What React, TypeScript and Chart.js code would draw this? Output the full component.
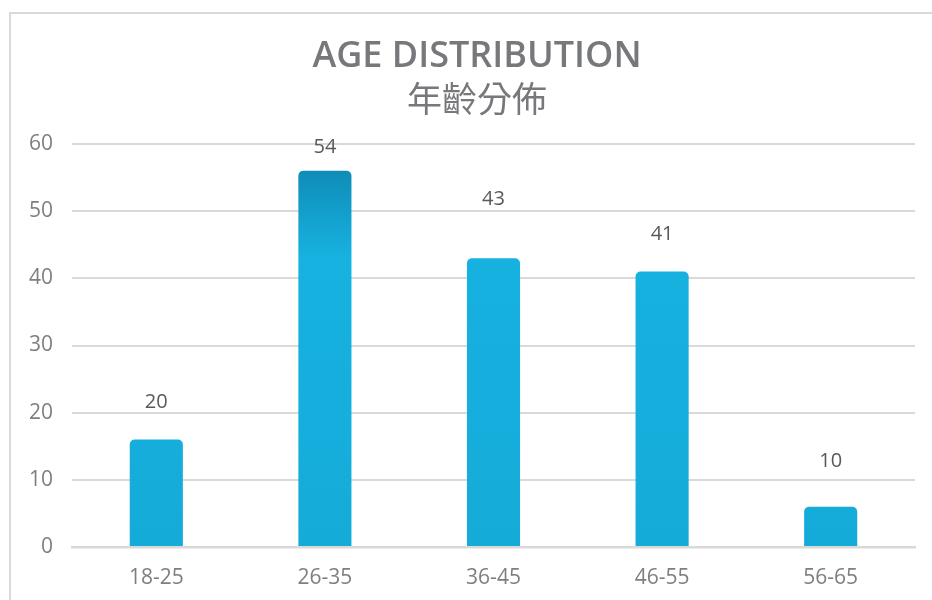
import React, { useEffect, useRef } from "react";
import { Chart, registerables } from "chart.js";

Chart.register(...registerables);

const categories = ["18-25", "26-35", "36-45", "46-55", "56-65"];
const barValues = [16, 56, 43, 41, 6];
const labelValues = [20, 54, 43, 41, 10];
const labelPositions = [21.6, 59.5, 51.7, 46.6, 12.8];
const yMin = 0;
const yMax = 60;
const yStep = 10;
const titleText = "AGE DISTRIBUTION";
const subtitleText = "年齡分佈";

const valueLabelsPlugin = {
  id: "valueLabels",
  afterDatasetsDraw(chart: any) {
    const meta = chart.getDatasetMeta(0);
    const y = chart.scales.y;
    const ctx = chart.ctx;
    ctx.save();
    ctx.font = '20px "Open Sans"';
    ctx.fillStyle = "#595959";
    ctx.textAlign = "center";
    ctx.textBaseline = "middle";
    meta.data.forEach((bar: any, i: number) => {
      ctx.fillText(String(labelValues[i]), bar.x, y.getPixelForValue(labelPositions[i]));
    });
    ctx.restore();
  },
};

const titlePlugin = {
  id: "twoLineTitle",
  afterDraw(chart: any) {
    const ctx = chart.ctx;
    ctx.save();
    ctx.fillStyle = "#77787b";
    ctx.textAlign = "center";
    ctx.textBaseline = "alphabetic";
    ctx.font = '600 36px "Open Sans"';
    ctx.fillText(titleText, 477, 67);
    ctx.font = '400 35px "Noto Sans CJK TC"';
    ctx.fillText(subtitleText, 477, 112);
    ctx.restore();
  },
};

export default function App() {
  const ref = useRef<HTMLCanvasElement | null>(null);

  useEffect(() => {
    if (!ref.current) return;
    const chart = new Chart(ref.current, {
      type: "bar",
      data: {
        labels: categories,
        datasets: [
          {
            data: barValues,
            backgroundColor: (c: any) => {
              const ch = c.chart;
              const area = ch.chartArea;
              if (!area) return "#17b2e0";
              const g = ch.ctx.createLinearGradient(0, area.bottom, 0, area.top);
              if (c.dataIndex === 1) {
                g.addColorStop(0, "#15abd9");
                g.addColorStop(0.72, "#17b2e0");
                g.addColorStop(0.93, "#0f8db8");
                g.addColorStop(1, "#0f8db8");
              } else {
                g.addColorStop(0, "#15abd9");
                g.addColorStop(1, "#18b4e2");
              }
              return g;
            },
            borderRadius: { topLeft: 5, topRight: 5, bottomLeft: 0, bottomRight: 0 },
            borderSkipped: "start",
            barPercentage: 0.315,
            categoryPercentage: 1,
          },
        ],
      },
      options: {
        animation: false,
        responsive: true,
        maintainAspectRatio: false,
        layout: { padding: { left: 18, right: 17, top: 144, bottom: 0 } },
        plugins: {
          legend: { display: false },
          tooltip: { enabled: false },
          title: { display: false },
        },
        scales: {
          x: {
            grid: { display: false, drawTicks: false },
            border: { display: true, color: "#d9d9d9", width: 2.5 },
            ticks: {
              color: "#7f7f7f",
              font: { family: '"Open Sans"', size: 21 },
              padding: 18,
            },
            afterFit: (scale: any) => {
              scale.height = 53;
            },
          },
          y: {
            min: yMin,
            max: yMax,
            grid: { color: "#d9d9d9", lineWidth: 2, drawTicks: false },
            border: { display: false },
            ticks: {
              stepSize: yStep,
              color: "#7f7f7f",
              font: { family: '"Open Sans"', size: 21 },
              padding: 19,
            },
            afterFit: (scale: any) => {
              scale.width = 54;
            },
          },
        },
      },
      plugins: [valueLabelsPlugin, titlePlugin],
    });
    return () => chart.destroy();
  }, []);

  return (
    <div
      style={{
        position: "absolute",
        left: 0,
        top: 0,
        width: 932,
        height: 600,
        overflow: "hidden",
        background: "#ffffff",
      }}
    >
      <div
        style={{
          position: "absolute",
          left: 9,
          top: 12,
          width: 1000,
          height: 700,
          border: "2px solid #d9d9d9",
          boxSizing: "border-box",
        }}
      />
      <div style={{ position: "absolute", left: 0, top: 0, width: 932, height: 600 }}>
        <canvas ref={ref} />
      </div>
    </div>
  );
}
